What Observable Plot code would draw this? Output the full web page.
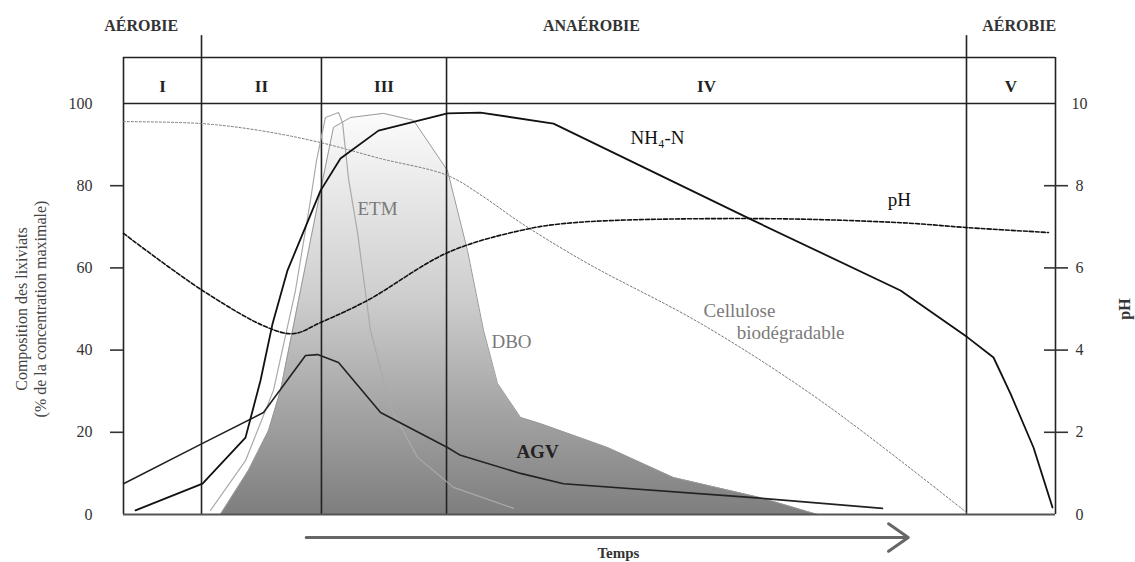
<!DOCTYPE html>
<html>
<head>
<meta charset="utf-8">
<script src="https://cdn.jsdelivr.net/npm/d3@7"></script>
<script src="https://cdn.jsdelivr.net/npm/@observablehq/plot@0.6"></script>
<style>
  html, body { margin: 0; padding: 0; background: #fff; }
  #chart { width: 1135px; height: 562px; }
</style>
</head>
<body>
<div id="chart"></div>
<script>
// ---- Phases and regimes (time axis, arbitrary units 0–100) ----
const phaseBounds = [0, 8.37, 21.24, 34.66, 90.45, 100];
const phaseLabels = ["I", "II", "III", "IV", "V"];
const regimeBounds = [8.37, 90.45];
const regimeLabels = ["AÉROBIE", "ANAÉROBIE", "AÉROBIE"];
const regimeLabelT = [1.9, 50.2, 96.1];

// ---- Axis ticks ----
const leftTicks = [0, 20, 40, 60, 80, 100];      // % of max concentration
const pHTicks = [0, 2, 4, 6, 8, 10];              // pH

// ---- Series: [time, value] ----
const cellulose = [[0,95.6],[8.48,95.1],[14.7,93.4],[21.14,90.5],[27.58,86.6],[34.76,82.5],[38.5,77.5],[42.6,71.0],[49.79,61.1],[61.91,46.5],[74.79,27.7],[90.45,0.5]];
const pHvalues = [[0,6.84],[8.48,5.45],[15.45,4.55],[18.24,4.40],[21.14,4.67],[26.18,5.21],[34.76,6.37],[42.6,6.91],[48.28,7.10],[67.6,7.20],[83.37,7.10],[90.56,6.98],[99.25,6.86]];
const nh4 = [[1.29,1.0],[8.48,7.5],[13.09,18.7],[14.7,32.6],[16.0,46.5],[17.6,59.4],[21.14,78.8],[23.28,86.6],[27.36,93.4],[34.76,97.6],[38.3,97.8],[46.14,95.1],[67.6,71.5],[83.37,54.5],[90.56,43.1],[93.35,38.2],[95.17,29.4],[97.64,16.3],[99.68,1.7]];
const agv = [[0,7.5],[8.48,17.3],[15.02,24.8],[19.53,38.7],[20.82,38.9],[23.07,37.0],[27.58,24.8],[34.76,16.3],[36.16,14.4],[42.6,10.0],[47.21,7.5],[67.6,4.1],[81.44,1.5]];
const etm = [[9.33,1.0],[13.09,13.1],[16.09,30.2],[18.45,54.5],[20.06,76.4],[20.71,86.1],[21.67,96.6],[23.07,97.8],[23.5,95.4],[24.14,81.8],[25.11,68.6],[26.5,44.8],[28.65,26.0],[31.55,13.9],[35.41,6.6],[41.85,1.5]];
const dbo = [[10.41,0],[13.41,10.7],[15.56,20.4],[16.85,30.2],[18.78,52.1],[20.92,76.4],[22.53,94.2],[24.36,96.6],[27.9,97.6],[31.12,95.9],[34.76,83.7],[36.91,64.2],[38.63,44.8],[40.13,31.9],[42.6,23.6],[44.74,22.1],[51.93,16.3],[59.01,9.0],[68.35,4.1],[74.46,0]];

// ---- Curve labels ----
const grayLabels = [
  {text: "ETM", t: 27.25, v: 74.45},
  {text: "DBO", t: 41.63, v: 42.09},
  {text: "Cellulose", t: 66.09, v: 49.6},
  {text: "biodégradable", t: 71.57, v: 44.3}
];
const blackLabels = [
  {text: "NH₄-N", t: 57.3, v: 91.7},
  {text: "pH", t: 83.26, v: 76.64}
];
const boldLabels = [
  {text: "AGV", t: 44.42, v: 15.3}
];

// header band levels (value units above the 100 line)
const headerTop = 111.2, regimeTop = 116.5, regimeTextV = 119, phaseTextV = 104.1;

const phases = phaseLabels.map((label, i) => ({label, t: (phaseBounds[i] + phaseBounds[i + 1]) / 2}));
const regimes = regimeLabels.map((label, i) => ({label, t: regimeLabelT[i]}));

function gradientDefs() {
  const defs = d3.create("svg:defs");
  const g = defs.append("linearGradient").attr("id", "dboGrad")
    .attr("x1", 0).attr("y1", 0).attr("x2", 0).attr("y2", 1);
  g.append("stop").attr("offset", "0%").attr("stop-color", "#fcfcfc");
  g.append("stop").attr("offset", "45%").attr("stop-color", "#cfcfcf");
  g.append("stop").attr("offset", "100%").attr("stop-color", "#7e7e7e");
  return defs.node();
}

const frameColor = "#222";
const serif = "'Liberation Serif', 'Times New Roman', serif";

const chart = Plot.plot({
  width: 1135,
  height: 562,
  marginLeft: 123,
  marginRight: 80,
  marginTop: 103,
  marginBottom: 48,
  x: {domain: [0, 100], axis: null},
  y: {domain: [0, 100], axis: null, label: null},
  style: {fontFamily: serif, background: "#fff", color: "#222"},
  marks: [
    gradientDefs,
    // DBO shaded area
    Plot.areaY(dbo, {x: d => d[0], y: d => d[1], fill: "url(#dboGrad)"}),
    Plot.lineY(dbo, {x: d => d[0], y: d => d[1], stroke: "#999", strokeWidth: 1}),

    // frame & phases
    Plot.ruleX(phaseBounds, {y1: 0, y2: headerTop, stroke: frameColor, strokeWidth: 1.6}),
    Plot.ruleX(regimeBounds, {y1: headerTop, y2: regimeTop, stroke: frameColor, strokeWidth: 1.6}),
    Plot.ruleY([100, headerTop], {x1: 0, x2: 100, stroke: frameColor, strokeWidth: 1.6}),
    Plot.ruleY([0], {x1: 0, x2: 100, stroke: "#555", strokeWidth: 2.2}),

    // axes
    Plot.axisY([20, 40, 60, 80], {anchor: "left", tickSize: 13, tickFormat: () => "", label: null, stroke: "#333", strokeWidth: 1.6}),
    Plot.axisY(leftTicks, {anchor: "left", tickSize: 0, tickPadding: 31, label: null, fontSize: 16, fill: "#333"}),
    Plot.axisY([20, 40, 60, 80], {anchor: "right", tickSize: 24, dx: -12, tickFormat: () => "", label: null, stroke: "#333", strokeWidth: 1.6}),
    Plot.axisY(pHTicks.map(d => d * 10), {anchor: "right", tickSize: 0, tickPadding: 24, textAnchor: "middle", tickFormat: d => d / 10, label: null, fontSize: 16, fill: "#333"}),

    // curves
    Plot.lineY(cellulose, {x: d => d[0], y: d => d[1], stroke: "#777", strokeWidth: 1, strokeDasharray: "2,2", curve: "catmull-rom"}),
    Plot.lineY(etm, {x: d => d[0], y: d => d[1], stroke: "#aaa", strokeWidth: 1.2}),
    Plot.lineY(pHvalues, {x: d => d[0], y: d => d[1] * 10, stroke: "#111", strokeWidth: 1.6, strokeDasharray: "4,2", curve: "catmull-rom"}),
    Plot.lineY(agv, {x: d => d[0], y: d => d[1], stroke: "#222", strokeWidth: 1.6}),
    Plot.lineY(nh4, {x: d => d[0], y: d => d[1], stroke: "#111", strokeWidth: 1.8}),

    // header texts
    Plot.text(phases, {x: "t", y: phaseTextV, text: "label", fontSize: 17, fontWeight: "bold", fill: "#222"}),
    Plot.text(regimes, {x: "t", y: regimeTextV, text: "label", fontSize: 16, fontWeight: "bold", fill: "#333"}),

    // curve labels
    Plot.text(grayLabels, {x: "t", y: "v", text: "text", fontSize: 19, fill: "#7a7a7a"}),
    Plot.text(blackLabels, {x: "t", y: "v", text: "text", fontSize: 19, fill: "#111"}),
    Plot.text(boldLabels, {x: "t", y: "v", text: "text", fontSize: 19, fontWeight: "bold", fill: "#222"}),

    // axis titles
    Plot.text(["Composition des lixiviats\n(% de la concentration maximale)"], {frameAnchor: "left", textAnchor: "middle", dx: -93, rotate: -90, fontSize: 16, lineHeight: 1.2, fill: "#444"}),
    Plot.text(["pH"], {frameAnchor: "right", textAnchor: "middle", dx: 69, rotate: -90, fontSize: 16, fontWeight: "bold", fill: "#333"}),

    // time arrow
    Plot.arrow([{x1: 19.6, x2: 84.2, y: -5.6}], {x1: "x1", x2: "x2", y1: "y", y2: "y", stroke: "#666", strokeWidth: 3, headLength: 12, headAngle: 70}),
    Plot.text(["Temps"], {x: 53.1, y: -9.5, fontSize: 15, fontWeight: "bold", fill: "#333"})
  ]
});

document.getElementById("chart").append(chart);
</script>
</body>
</html>
